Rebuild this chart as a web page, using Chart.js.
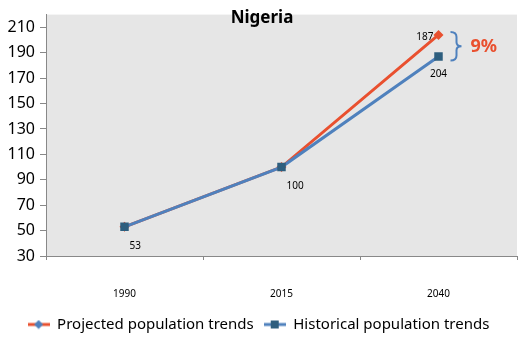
<!DOCTYPE html>
<html>
<head>
<meta charset="utf-8">
<script src="https://cdn.jsdelivr.net/npm/chart.js@4"></script>
<style>
  html, body { margin: 0; padding: 0; background: #fff; }
  #wrap { width: 526px; height: 342px; }
</style>
</head>
<body>
<div id="wrap"><canvas id="chart"></canvas></div>
<script>
const years = ['1990', '2015', '2040'];
const projected = [53, 100, 204];
const historical = [53, 100, 187];
// label texts as printed on the picture (they are swapped there)
const projectedLabels = ['', '', '187'];
const historicalLabels = ['53', '100', '204'];
const yTicks = [30, 50, 70, 90, 110, 130, 150, 170, 190, 210];
const gapText = '9%';

const RED = '#E9502F';
const BLUE = '#4F81BD';
const DARK = '#2E5E7E';
const FONT = '"Noto Sans", sans-serif';

// little legend swatches: line with marker
const swatch = (lineColor, markerColor, diamond) => {
  const c = document.createElement('canvas');
  c.width = 22; c.height = 10;
  const g = c.getContext('2d');
  g.strokeStyle = lineColor; g.lineWidth = 3;
  g.beginPath(); g.moveTo(0, 5); g.lineTo(22, 5); g.stroke();
  g.fillStyle = markerColor;
  g.beginPath();
  if (diamond) {
    g.moveTo(11, 0.5); g.lineTo(15.5, 5); g.lineTo(11, 9.5); g.lineTo(6.5, 5);
  } else {
    g.rect(7, 1, 8, 8);
  }
  g.fill();
  return c;
};

const extras = {
  id: 'extras',
  afterDatasetsDraw(chart) {
    const { ctx } = chart;
    ctx.save();
    // title inside plot
    ctx.fillStyle = '#000';
    ctx.font = 'bold 17px ' + FONT;
    ctx.textAlign = 'center';
    ctx.textBaseline = 'middle';
    ctx.fillText('Nigeria', 262, 18);

    // data labels
    ctx.font = '10px ' + FONT;
    const hMeta = chart.getDatasetMeta(1).data;
    const pMeta = chart.getDatasetMeta(0).data;
    historicalLabels.forEach((t, i) => {
      if (!t) return;
      const p = hMeta[i];
      if (i === 2) { ctx.textAlign = 'center'; ctx.fillText(t, p.x, p.y + 18); }
      else { ctx.textAlign = 'left'; ctx.fillText(t, p.x + 5, p.y + 19); }
    });
    projectedLabels.forEach((t, i) => {
      if (!t) return;
      const p = pMeta[i];
      ctx.textAlign = 'right';
      ctx.fillText(t, p.x - 5, p.y + 2);
    });

    // brace between 2040 values
    const top = pMeta[2].y - 3;
    const bot = hMeta[2].y + 4;
    const mid = (top + bot) / 2;
    const bx = pMeta[2].x + 12;
    ctx.strokeStyle = BLUE;
    ctx.lineWidth = 2;
    ctx.beginPath();
    ctx.moveTo(bx, top);
    ctx.quadraticCurveTo(bx + 6, top, bx + 6, top + 5);
    ctx.lineTo(bx + 6, mid - 4);
    ctx.quadraticCurveTo(bx + 6, mid, bx + 11, mid);
    ctx.quadraticCurveTo(bx + 6, mid, bx + 6, mid + 4);
    ctx.lineTo(bx + 6, bot - 5);
    ctx.quadraticCurveTo(bx + 6, bot, bx, bot);
    ctx.stroke();

    ctx.fillStyle = RED;
    ctx.font = 'bold 18px ' + FONT;
    ctx.textAlign = 'left';
    ctx.fillText(gapText, bx + 20, mid + 1);
    ctx.restore();
  }
};

const plotBg = {
  id: 'plotBg',
  beforeDraw(chart) {
    const { ctx, chartArea: a } = chart;
    ctx.save();
    ctx.fillStyle = '#E6E6E6';
    ctx.fillRect(a.left, a.top, a.right - a.left, a.bottom - a.top);
    ctx.restore();
  }
};

new Chart(document.getElementById('chart'), {
  type: 'line',
  data: {
    labels: years,
    datasets: [
      {
        label: 'Projected population trends',
        data: projected,
        borderColor: RED,
        backgroundColor: RED,
        borderWidth: 3,
        pointStyle: 'rectRot',
        pointRadius: 5,
        pointBorderWidth: 0,
        order: 2
      },
      {
        label: 'Historical population trends',
        data: historical,
        borderColor: BLUE,
        backgroundColor: DARK,
        borderWidth: 3,
        pointStyle: 'rect',
        pointRadius: 6,
        pointBorderWidth: 0,
        order: 1
      }
    ]
  },
  options: {
    responsive: true,
    maintainAspectRatio: false,
    animation: false,
    layout: { padding: { top: 12, right: 9, left: 0, bottom: 0 } },
    plugins: {
      title: { display: false },
      tooltip: { enabled: false },
      legend: {
        position: 'bottom',
        labels: {
          usePointStyle: true,
          pointStyleWidth: 22,
          padding: 10,
          color: '#000',
          font: { family: FONT, size: 15 },
          generateLabels: () => [
            { text: 'Projected population trends', pointStyle: swatch(RED, BLUE, true), datasetIndex: 0, fontColor: '#000' },
            { text: 'Historical population trends', pointStyle: swatch(BLUE, DARK, false), datasetIndex: 1, fontColor: '#000' }
          ]
        }
      }
    },
    scales: {
      x: {
        offset: true,
        grid: { offset: true, drawOnChartArea: false, drawTicks: true, tickLength: 4, color: '#888' },
        border: { color: '#888' },
        ticks: { color: '#000', font: { family: FONT, size: 10 }, padding: 28 },
        afterFit: (s) => { s.height = 51; }
      },
      y: {
        min: 30,
        max: 220,
        afterBuildTicks: (s) => { s.ticks = yTicks.map(v => ({ value: v })); },
        grid: { drawOnChartArea: false, drawTicks: true, tickLength: 6, color: '#888' },
        border: { color: '#888' },
        ticks: { color: '#000', font: { family: FONT, size: 16 }, padding: 5 },
        afterFit: (s) => { s.width = 46; }
      }
    }
  },
  plugins: [plotBg, extras]
});
</script>
</body>
</html>
